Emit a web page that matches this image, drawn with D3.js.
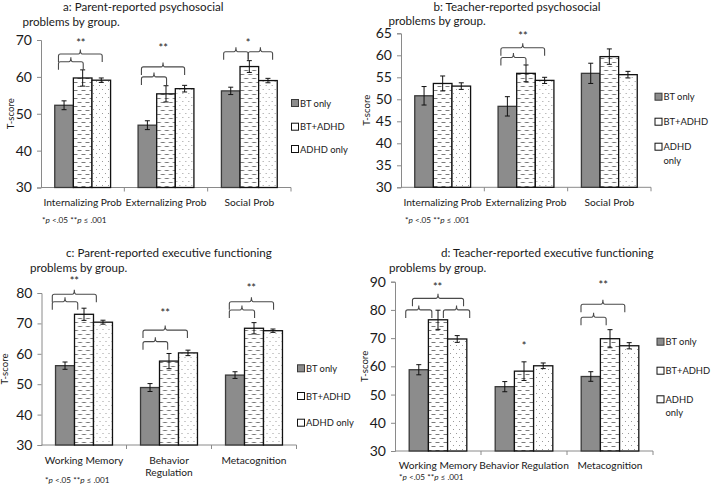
<!DOCTYPE html>
<html><head><meta charset="utf-8">
<script src="https://cdn.jsdelivr.net/npm/d3@7"></script>
<style>
body{margin:0;background:#fff}
svg{display:block}
text{font-family:Lato,"Open Sans",sans-serif;fill:#1a1a1a}
</style>
</head><body>
<svg id="chart" width="713" height="485"></svg>
<script>
// ---------------- data ----------------
const groups = ["BT only", "BT+ADHD", "ADHD only"];
const psyCats = ["Internalizing Prob", "Externalizing Prob", "Social Prob"];
const efCats = ["Working Memory", "Behavior Regulation", "Metacognition"];

const aMeans = [[52.3, 59.7, 59.1], [46.9, 55.4, 56.8], [56.2, 62.8, 59.0]];
const aErr   = [[1.2, 2.2, 0.6], [1.2, 2.2, 0.9], [1.0, 1.6, 0.6]];
const bMeans = [[50.8, 53.6, 53.0], [48.4, 55.9, 54.3], [55.9, 59.7, 55.6]];
const bErr   = [[2.1, 1.7, 0.75], [2.2, 1.9, 0.7], [2.3, 1.75, 0.75]];
const cMeans = [[56.1, 73.0, 70.4], [48.9, 57.6, 60.3], [53.0, 68.4, 67.6]];
const cErr   = [[1.2, 2.0, 0.65], [1.3, 2.5, 0.9], [1.1, 1.85, 0.55]];
const dMeans = [[58.8, 76.5, 69.7], [52.8, 58.3, 60.2], [56.4, 69.8, 67.3]];
const dErr   = [[1.8, 3.4, 1.2], [1.8, 3.3, 1.0], [1.7, 3.2, 1.1]];

const aTicks = [30, 40, 50, 60, 70];
const bTicks = [30, 35, 40, 45, 50, 55, 60, 65];
const cTicks = [30, 40, 50, 60, 70, 80];
const dTicks = [30, 40, 50, 60, 70, 80, 90];

// significance braces: [category, from (bar units), to (bar units), T-score level]
const aBraces = [[0, -0.3, 2.05, 66.2], [0, -0.3, 1.03, 64.1], [1, -0.32, 2.0, 62.7], [1, -0.32, 1.03, 60.0], [2, -0.38, 0.94, 66.8], [2, 0.94, 2.25, 66.8]];
const bBraces = [[1, -0.35, 2.0, 61.7], [1, -0.35, 1.0, 59.5]];
const cBraces = [[0, -0.67, 1.65, 79.6], [0, -0.67, 0.67, 77.1], [1, -0.37, 1.97, 67.8], [1, -0.37, 0.93, 64.0], [2, -0.3, 2.03, 77.1], [2, -0.3, 1.03, 74.4]];
const dBraces = [[0, -0.33, 2.33, 84.1], [0, -0.68, 0.68, 80.0], [0, 1.28, 2.65, 80.0], [2, -0.51, 1.77, 82.0], [2, -0.51, 0.8, 77.4]];
// stars: [category, position (bar units), text, T-score level]
const aStars = [[0, 0.9, "**", 69.5], [1, 0.85, "**", 68.2], [2, 0.94, "*", 69.5]];
const bStars = [[1, 0.84, "**", 64.8]];
const cStars = [[0, 0.49, "**", 84.3], [1, 0.8, "**", 73.8], [2, 0.86, "**", 82.1]];
const dStars = [[0, 0.98, "**", 88.8], [1, 1.0, "*", 67.9], [2, 0.65, "**", 89.4]];

const aTitle = ["a: Parent-reported psychosocial", "problems by group."];
const bTitle = ["b: Teacher-reported psychosocial", "problems by group."];
const cTitle = ["c: Parent-reported executive functioning", "problems by group."];
const dTitle = ["d: Teacher-reported executive functioning", "problems by group."];

// ---------------- drawing ----------------
const svg = d3.select("#chart");
const defs = svg.append("defs");
const dash = defs.append("pattern").attr("id", "dash").attr("patternUnits", "userSpaceOnUse")
  .attr("width", 8).attr("height", 8);
dash.append("rect").attr("width", 8).attr("height", 8).attr("fill", "#fff");
dash.append("path").attr("d", "M0.5,2.5H4.5M4.5,6.5H8.5M-3.5,6.5H0.5").attr("stroke", "#7a7a7a").attr("stroke-width", 1);
const dot = defs.append("pattern").attr("id", "dot").attr("patternUnits", "userSpaceOnUse")
  .attr("width", 6).attr("height", 8);
dot.append("rect").attr("width", 6).attr("height", 8).attr("fill", "#fff");
dot.append("rect").attr("x", 1).attr("y", 1).attr("width", 1).attr("height", 1).attr("fill", "#9a9a9a");
dot.append("rect").attr("x", 4).attr("y", 5).attr("width", 1).attr("height", 1).attr("fill", "#9a9a9a");

const fills = ["#8c8c8c", "url(#dash)", "url(#dot)"];
const strokes = ["#3a3a3a", "#111", "#111"];

const panels = [
  {means: aMeans, errs: aErr, cats: psyCats, ticks: aTicks, braces: aBraces, stars: aStars, title: aTitle,
   L: 41, R: 291, T: 40, B: 187.5, titleX: [63, 22.5], titleY: [11, 25.5], tx: 11.5,
   catY: 205.5, wrapCat: false, footX: 42, footY: 222.5, legX: 291.5, legY: [103, 126.7, 149], wrapLeg: false},
  {means: bMeans, errs: bErr, cats: psyCats, ticks: bTicks, braces: bBraces, stars: bStars, title: bTitle,
   L: 401, R: 651, T: 33.3, B: 187.3, titleX: [433.5, 388.5], titleY: [10.5, 25], tx: 367.5,
   catY: 205.5, wrapCat: false, footX: 405, footY: 222.5, legX: 655, legY: [96.7, 121.7, 146.7], wrapLeg: true},
  {means: cMeans, errs: cErr, cats: efCats, ticks: cTicks, braces: cBraces, stars: cStars, title: cTitle,
   L: 41.5, R: 296.5, T: 293, B: 445, titleX: [66, 30], titleY: [257, 272], tx: 6,
   catY: 464, wrapCat: true, footX: 45, footY: 482.5, legX: 297.5, legY: [368.3, 396, 422.7], wrapLeg: false},
  {means: dMeans, errs: dErr, cats: efCats, ticks: dTicks, braces: dBraces, stars: dStars, title: dTitle,
   L: 395, R: 653, T: 281.7, B: 451, titleX: [441, 389], titleY: [257, 272], tx: 366,
   catY: 469, wrapCat: false, footX: 399, footY: 480, legX: 657, legY: [341.7, 370.7, 399.3], wrapLeg: true}
];

function bracePath(x0, x1, y) {
  const leg = 8, r = 2, s = 4.5, m = (x0 + x1) / 2;
  return `M${x0},${y + leg}L${x0},${y + r}Q${x0},${y} ${x0 + r},${y}L${m - r},${y}` +
         `Q${m},${y} ${m},${y - s}Q${m},${y} ${m + r},${y}L${x1 - r},${y}Q${x1},${y} ${x1},${y + r}L${x1},${y + leg}`;
}

panels.forEach(p => {
  const g = svg.append("g");
  const ticks = p.ticks;
  const y = d3.scaleLinear().domain([ticks[0], ticks[ticks.length - 1]]).range([p.B, p.T]);
  const x = d3.scaleBand().domain(p.cats).range([p.L, p.R]).padding(0);
  const bw = x.bandwidth();
  const inner = d3.scaleBand().domain(groups).range([bw * 0.165, bw * 0.835]).padding(0);
  const sub = inner.bandwidth();
  const barC = (ci, u) => x(p.cats[ci]) + inner(groups[0]) + sub / 2 + u * sub;

  // title
  p.title.forEach((t, i) => g.append("text").attr("x", p.titleX[i]).attr("y", p.titleY[i])
    .attr("font-size", 11.6).text(t));

  // y axis
  const ya = g.append("g").attr("transform", `translate(${p.L},0)`)
    .call(d3.axisLeft(y).tickValues(ticks).tickSize(4).tickPadding(5).tickFormat(d3.format("d")));
  ya.select(".domain").attr("stroke", "#8a8a8a");
  ya.selectAll(".tick line").attr("stroke", "#8a8a8a");
  ya.selectAll(".tick text").attr("font-size", 14).attr("font-family", "Lato").attr("fill", "#1a1a1a");

  g.append("text").attr("transform", `translate(${p.tx},${(p.T + p.B) / 2}) rotate(-90)`)
    .attr("text-anchor", "middle").attr("dominant-baseline", "middle").attr("font-size", 9.6).text("T-score");

  // x axis
  g.append("line").attr("x1", p.L).attr("x2", p.R).attr("y1", p.B).attr("y2", p.B).attr("stroke", "#8a8a8a");
  const bounds = p.cats.map(c => x(c)).concat([p.R]).slice(1);
  g.selectAll(".xt").data(bounds).enter().append("line")
    .attr("x1", d => d).attr("x2", d => d).attr("y1", p.B).attr("y2", p.B + 4).attr("stroke", "#8a8a8a");

  // category labels
  p.cats.forEach(c => {
    const lines = (p.wrapCat && c.startsWith("Behavior")) ? c.split(" ") : [c];
    lines.forEach((l, i) => g.append("text").attr("x", x(c) + bw / 2).attr("y", p.catY + i * 11.7)
      .attr("text-anchor", "middle").attr("font-size", 10.2).text(l));
  });

  // bars
  p.cats.forEach((c, ci) => {
    const cg = g.append("g").attr("transform", `translate(${x(c)},0)`);
    cg.selectAll("rect").data(groups).enter().append("rect")
      .attr("x", gname => inner(gname)).attr("width", sub)
      .attr("y", (gname, gi) => y(p.means[ci][gi]))
      .attr("height", (gname, gi) => p.B - y(p.means[ci][gi]))
      .attr("fill", (gname, gi) => fills[gi]).attr("stroke", (gname, gi) => strokes[gi]).attr("stroke-width", 1.3);
    // error bars
    groups.forEach((gname, gi) => {
      const cx = inner(gname) + sub / 2, m = p.means[ci][gi], e = p.errs[ci][gi];
      const eg = cg.append("g").attr("stroke", "#111").attr("stroke-width", 1);
      eg.append("line").attr("x1", cx).attr("x2", cx).attr("y1", y(m + e)).attr("y2", y(m - e));
      eg.append("line").attr("x1", cx - 2.5).attr("x2", cx + 2.5).attr("y1", y(m + e)).attr("y2", y(m + e));
      eg.append("line").attr("x1", cx - 2.5).attr("x2", cx + 2.5).attr("y1", y(m - e)).attr("y2", y(m - e));
    });
  });

  // braces & stars
  p.braces.forEach(b => {
    g.append("path").attr("d", bracePath(barC(b[0], b[1]), barC(b[0], b[2]), y(b[3])))
      .attr("fill", "none").attr("stroke", "#4a4a4a").attr("stroke-width", 1.1);
  });
  p.stars.forEach(s => {
    g.append("text").attr("x", barC(s[0], s[1])).attr("y", y(s[3]) + 5.5)
      .attr("text-anchor", "middle").attr("font-size", 11).text(s[2]);
  });

  // legend
  groups.forEach((gname, gi) => {
    const cy = p.legY[gi];
    g.append("rect").attr("x", p.legX).attr("y", cy - 3.5).attr("width", 7).attr("height", 7)
      .attr("fill", gi === 0 ? fills[0] : "#fff").attr("stroke", strokes[gi]).attr("stroke-width", 1);
    const lines = (p.wrapLeg && gname === "ADHD only") ? ["ADHD", "only"] : [gname];
    lines.forEach((l, i) => g.append("text").attr("x", p.legX + 8.5).attr("y", cy + 3.5 + i * 13.5)
      .attr("font-size", 9.4).text(l));
  });

  // footnote
  const f = g.append("text").attr("x", p.footX).attr("y", p.footY).attr("font-size", 8.2);
  f.append("tspan").text("*");
  f.append("tspan").attr("font-style", "italic").text("p");
  f.append("tspan").text(" <.05 **");
  f.append("tspan").attr("font-style", "italic").text("p");
  f.append("tspan").text(" \u2264 .001");
});
</script>
</body></html>
